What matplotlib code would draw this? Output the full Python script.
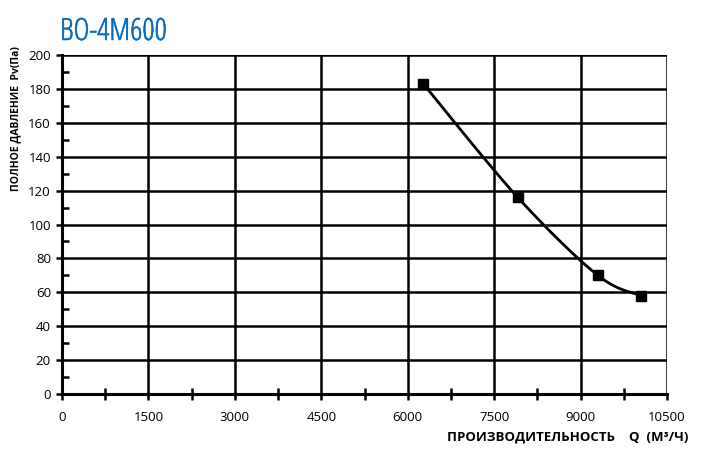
import numpy as np
import matplotlib
matplotlib.use("Agg")
import matplotlib.pyplot as plt
import matplotlib.patheffects as pe
from matplotlib.ticker import MultipleLocator

q_values = [6270, 7910, 9300, 10050]
p_values = [183, 116, 70, 58]
x_ticks = [0, 1500, 3000, 4500, 6000, 7500, 9000, 10500]
y_ticks = [0, 20, 40, 60, 80, 100, 120, 140, 160, 180, 200]
title = "ВО-4М600"
xlabel = "ПРОИЗВОДИТЕЛЬНОСТЬ    Q  (М³/Ч)"
ylabel = "ПОЛНОЕ ДАВЛЕНИЕ  Pv(Па)"

plt.rcParams['font.family'] = ['Open Sans', 'DejaVu Sans']

def catmull_rom(xs, ys, n=40):
    P = np.column_stack([xs, ys]).astype(float)
    P = np.vstack([P[0], P, P[-1]])
    out = []
    for i in range(1, len(P) - 2):
        p0, p1, p2, p3 = P[i - 1], P[i], P[i + 1], P[i + 2]
        t = np.linspace(0, 1, n)[:, None]
        pt = 0.5 * ((2 * p1) + (-p0 + p2) * t + (2 * p0 - 5 * p1 + 4 * p2 - p3) * t ** 2
                    + (-p0 + 3 * p1 - 3 * p2 + p3) * t ** 3)
        out.append(pt)
    out = np.vstack(out)
    return out[:, 0], out[:, 1]

W, H = 706, 457
fig = plt.figure(figsize=(W / 100, H / 100), dpi=100)
ax = fig.add_axes([62 / W, 1 - 394 / H, (667 - 62) / W, (394 - 55) / H])

ax.set_xlim(0, 10500)
ax.set_ylim(0, 200)
ax.set_xticks(x_ticks)
ax.set_yticks(y_ticks)
ax.xaxis.set_minor_locator(MultipleLocator(750))
ax.yaxis.set_minor_locator(MultipleLocator(10))
ax.grid(True, which='major', color='black', linewidth=1.8)
ax.set_axisbelow(True)
for s in ax.spines.values():
    s.set_visible(False)
ax.spines['left'].set_visible(True)
ax.spines['bottom'].set_visible(True)
ax.spines['left'].set_linewidth(2.2)
ax.spines['bottom'].set_linewidth(2.2)
ax.tick_params(which='major', direction='out', length=4, width=1.8, labelsize=9.5)
ax.tick_params(axis='y', which='minor', direction='in', length=5, width=1.8)
ax.tick_params(axis='x', which='minor', direction='inout', length=8, width=1.8)
ax.tick_params(axis='x', which='major', pad=8)
ax.tick_params(axis='y', which='major', pad=4)

cx, cy = catmull_rom(q_values, p_values)
ax.plot(cx, cy, color='black', linewidth=2, clip_on=False)
ax.plot(q_values, p_values, linestyle='none', marker='s', markersize=6.5, color='black', clip_on=False)

fig.text(60 / W, 1 - 32 / H, title, color='#0a6cc0', fontsize=22, fontweight='normal',
         ha='left', va='center', fontstretch='condensed',
         path_effects=[pe.withStroke(linewidth=0.4, foreground='#0a6cc0')])
fig.text(688 / W, 1 - 437 / H, xlabel, fontsize=9.5, fontweight='bold', ha='right', va='center')
fig.text(16 / W, 1 - 119 / H, ylabel, fontsize=7.5, fontweight='bold', rotation=90, ha='center', va='center')

fig.savefig("out.png", dpi=100)
